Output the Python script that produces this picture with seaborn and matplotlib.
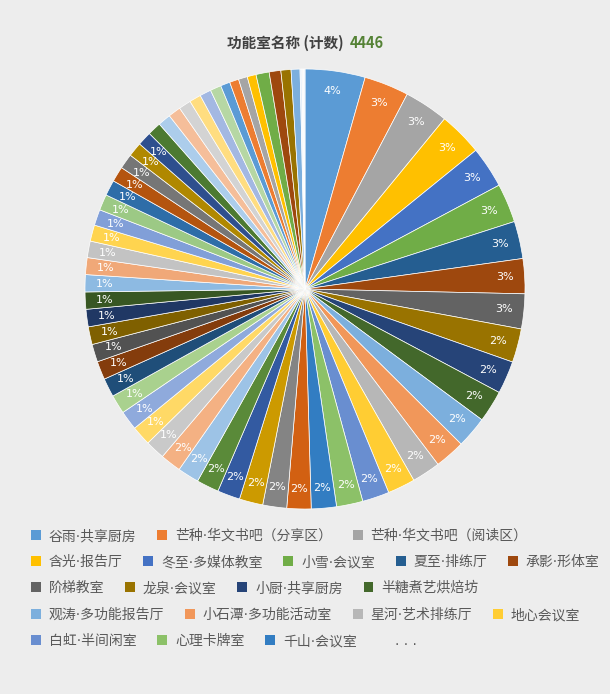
import numpy as np
import pandas as pd
import matplotlib
matplotlib.use("Agg")
from matplotlib import pyplot as plt
from matplotlib.patches import Patch
import seaborn as sns

# Room names shown in the legend (the rest are cut off with "...")
room_names = ["谷雨·共享厨房", "芒种·华文书吧（分享区）", "芒种·华文书吧（阅读区）",
              "含光·报告厅", "冬至·多媒体教室", "小雪·会议室", "夏至·排练厅", "承影·形体室",
              "阶梯教室", "龙泉·会议室", "小厨·共享厨房", "半糖煮艺烘焙坊",
              "观涛·多功能报告厅", "小石潭·多功能活动室", "星河·艺术排练厅", "地心会议室",
              "白虹·半间闲室", "心理卡牌室", "千山·会议室"]

# Bookings per room (total 4446)
room_counts = [196, 146, 144, 143, 135, 127, 122, 114, 114,
               110, 107, 104, 103, 99, 93, 90, 88, 86, 82,
               79, 78, 77, 74, 73, 70, 68,
               64, 64, 63, 62, 61, 60, 58, 58, 57, 56,
               56, 55, 54, 53, 52, 52, 51, 50, 49, 47, 46,
               44, 42, 41, 40, 38, 37, 36,
               31, 30, 29, 29,
               43, 38, 33, 29,
               6, 5, 5]

n_labeled = 47  # slices that carry a percent label

slice_colors = ['#5B9BD5', '#ED7D31', '#A5A5A5', '#FFC000', '#4472C4', '#70AD47',
                '#255E91', '#9E480E', '#636363', '#997300', '#264478', '#43682B',
                '#7CAFDD', '#F1975A', '#B7B7B7', '#FFCD33', '#698ED0', '#8CC168',
                '#327DC2', '#D26012', '#848484', '#CC9A00', '#335AA1', '#5A8A39',
                '#9DC3E6', '#F4B183', '#C9C9C9', '#FFD966', '#8FAADC', '#A9D18E',
                '#1F4E79', '#843C0C', '#525252', '#7F6000', '#203864', '#385723',
                '#8DBAE2', '#F0A878', '#C3C3C3', '#FFD44F', '#819FD8', '#9CC985',
                '#2E6DA8', '#B4540F', '#767676', '#B08800', '#2E4F8E', '#4C7A31',
                '#ACCDEB', '#F5BE9A', '#D3D3D3', '#FFDD80', '#A3B8E2', '#B6D7A4',
                '#5B9BD5', '#ED7D31', '#A5A5A5', '#FFC000',
                '#70AD47', '#9E480E', '#997300', '#7CAFDD',
                '#E2EDF8', '#F7F7F7', '#EEF3FA']

bg = '#EDEDED'
sns.set_theme(style="white", rc={"figure.facecolor": bg, "axes.facecolor": bg})
plt.rcParams['font.family'] = ['Noto Sans CJK SC', 'DejaVu Sans']
# DejaVu first so the middle dot stays narrow, CJK glyphs fall back to Noto
legend_family = ['DejaVu Sans', 'Noto Sans CJK SC']

W, H = 610, 694
fig = plt.figure(figsize=(W / 100, H / 100), dpi=100)

# pie centred at (305, 289) px, radius 220 px
cx, cy, r = 305, 289, 220
ax = fig.add_axes([(cx - r) / W, (H - cy - r) / H, 2 * r / W, 2 * r / H])
wedges, texts, autotexts = ax.pie(
    room_counts, colors=slice_colors, startangle=90, counterclock=False,
    autopct='%.0f%%', pctdistance=0.91,
    wedgeprops=dict(edgecolor='white', linewidth=0.5),
    textprops=dict(color='white', fontsize=8,
                   family=['Liberation Sans Narrow', 'DejaVu Sans']))
for t in autotexts[n_labeled:]:
    t.set_visible(False)
ax.set_xlim(-1, 1)
ax.set_ylim(-1, 1)
ax.axis('off')

# title in two colours
total = sum(room_counts)
ty = 1 - 43 / H
fig.text(344 / W, ty, "功能室名称 (计数)", ha='right', va='center',
         fontsize=10.5, fontweight='bold', color='#404040')
fig.text(350 / W, ty, str(total), ha='left', va='center',
         fontsize=10.5, fontweight='bold', color='#548235')

# legend laid out as left-aligned rows
row_sizes = [3, 5, 4, 4, 3]
row_y = [536, 562, 588, 615, 641]
start = 0
for k, (n, y) in enumerate(zip(row_sizes, row_y)):
    idx = range(start, start + n)
    handles = [Patch(facecolor=wedges[i].get_facecolor(), edgecolor='none') for i in idx]
    labels = [room_names[i] for i in idx]
    if k == len(row_sizes) - 1:
        handles.append(Patch(facecolor='none', edgecolor='none'))
        labels.append(". . .")
    fig.legend(handles, labels, loc='center left', bbox_to_anchor=(31 / W, 1 - y / H),
               ncol=len(handles), frameon=False,
               prop=dict(family=legend_family, size=10),
               handlelength=0.7, handleheight=0.7, handletextpad=0.58,
               columnspacing=1.5, borderpad=0, borderaxespad=0,
               labelcolor='#595959')
    start += n

fig.savefig("out.png", dpi=100, facecolor=bg)
